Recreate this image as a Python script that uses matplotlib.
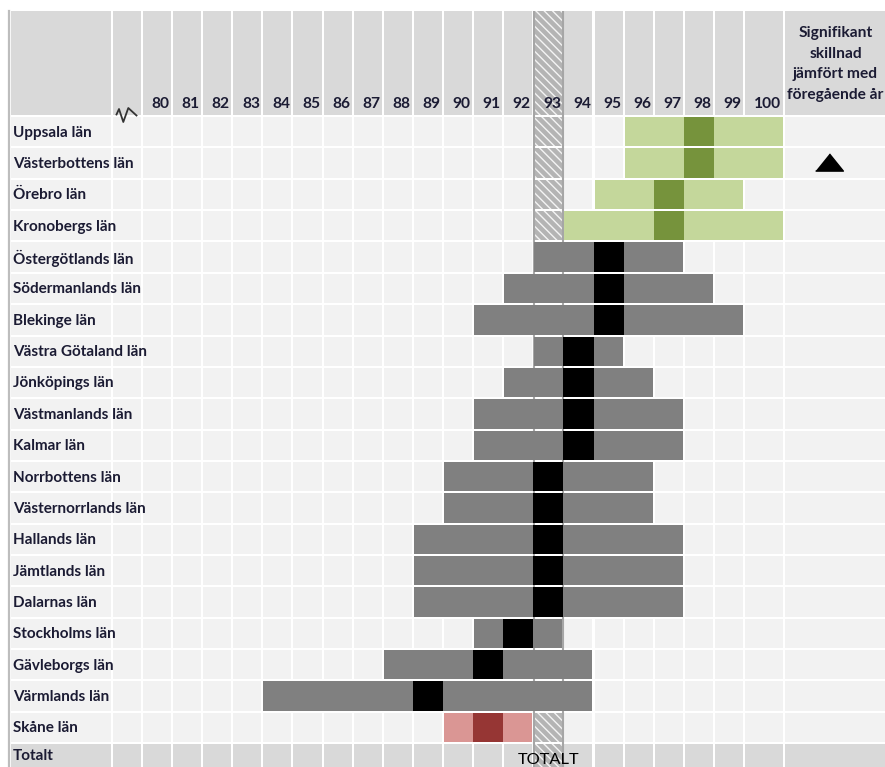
import matplotlib
matplotlib.use("Agg")
import matplotlib.pyplot as plt
from matplotlib.lines import Line2D

# ---------------- data ----------------
regions = ["Uppsala län", "Västerbottens län", "Örebro län", "Kronobergs län",
           "Östergötlands län", "Södermanlands län", "Blekinge län",
           "Västra Götaland län", "Jönköpings län", "Västmanlands län",
           "Kalmar län", "Norrbottens län", "Västernorrlands län",
           "Hallands län", "Jämtlands län", "Dalarnas län", "Stockholms län",
           "Gävleborgs län", "Värmlands län", "Skåne län"]
estimate = [98, 98, 97, 97, 95, 95, 95, 94, 94, 94, 94, 93, 93, 93, 93, 93, 92, 91, 89, 91]
ci_low   = [96, 96, 95, 94, 93, 92, 91, 93, 92, 91, 91, 90, 90, 89, 89, 89, 91, 88, 84, 90]
ci_high  = [100, 100, 99, 100, 97, 98, 99, 95, 96, 97, 97, 96, 96, 97, 97, 97, 93, 94, 94, 92]
signif   = ["", "up", "", "", "", "", "", "", "", "", "", "", "", "", "", "", "", "", "", ""]
scale_values = list(range(80, 101))
total_value = 93
total_label = "Totalt"
total_marker = "TOTALT"
signif_header = "Signifikant\nskillnad\njämfört med\nföregående år"

# ---------------- layout ----------------
W, H = 885, 767
PX_X0, CW, RP, RY0 = 142.0, 30.1, 31.35, 131.75


def xu(px):
    return 79.5 + (px - PX_X0) / CW


def yu(px):
    return (px - RY0) / RP


GX = 1.0 / CW
GY = 1.0 / RP
HDR_TOP = yu(9.5)
HDR_BOT = -0.5
TOT_ROW = len(regions)


def col_left(v):
    return v - 0.5


def col_right(v):
    return 100.83 if v == 100 else v + 0.5


LABEL_COL = (xu(9.5), xu(112.5))
BREAK_COL = (xu(112.5), 79.5)
SIG_COL = (100.83, xu(W) + 1)

HEADER_BG = "#D9D9D9"
CELL_BG = "#F2F2F2"
TXT = "#1B1B33"
FONT = "Lato"
FS = 11.0

fig = plt.figure(figsize=(W / 100, H / 100), dpi=100)
ax = fig.add_axes([0, 0, 1, 1])
ax.set_xlim(xu(0), xu(W))
ax.set_ylim(yu(H), yu(0))
ax.axis("off")


def cell(x0, x1, y0, y1, color, z=1, **kw):
    ax.bar(x=(x0 + x1) / 2, height=(y1 - y0) - 2 * GY, width=(x1 - x0) - 2 * GX,
           bottom=y0 + GY, color=color, zorder=z, linewidth=0, **kw)


all_cols = [LABEL_COL, BREAK_COL] + [(col_left(v), col_right(v)) for v in scale_values] + [SIG_COL]

# header row
for (x0, x1) in all_cols:
    cell(x0, x1, HDR_TOP, HDR_BOT, HEADER_BG)
# body rows
for i in range(len(regions)):
    for (x0, x1) in all_cols:
        cell(x0, x1, i - 0.5, i + 0.5, CELL_BG)
# total row
for (x0, x1) in all_cols:
    cell(x0, x1, TOT_ROW - 0.5, TOT_ROW + 0.5, HEADER_BG)

# hatched total column
ys = [(HDR_TOP, HDR_BOT)] + [(i - 0.5, i + 0.5) for i in range(len(regions) + 1)]
for (y0, y1) in ys:
    cell(col_left(total_value), col_right(total_value), y0, y1, "#B4B4B4", z=2,
         hatch="\\\\\\\\", edgecolor="#F4F4F4")
for xe in (col_left(total_value) + GX * 0.9, col_right(total_value) - GX * 0.9):
    ax.plot([xe, xe], [HDR_TOP + GY, yu(H) + 1], color="#A6A6A6", lw=1.5, zorder=3,
            solid_capstyle="butt")

# left border line
ax.plot([xu(9.2), xu(9.2)], [HDR_TOP + GY, yu(H) + 1], color="#BDBDBD", lw=1.6, zorder=3)

# bars
for i, (lo, est, hi) in enumerate(zip(ci_low, estimate, ci_high)):
    if lo > total_value:
        c_ci, c_pt = "#C4D79B", "#76933C"
    elif hi < total_value:
        c_ci, c_pt = "#DA9694", "#963634"
    else:
        c_ci, c_pt = "#808080", "#000000"
    l = col_left(lo) + GX
    r = col_right(hi) - GX
    ax.barh(i, r - l, left=l, height=1 - 2 * GY, color=c_ci, zorder=4, linewidth=0)
    pl = col_left(est)
    pr = col_right(est)
    ax.barh(i, pr - pl, left=pl, height=1 - 2 * GY, color=c_pt, zorder=5, linewidth=0)

# significance markers
tri = [(-1.0, -0.62), (1.0, -0.62), (0.0, 0.62)]
for i, s in enumerate(signif):
    if s == "up":
        ax.plot(xu(829), i - 0.04, marker=tri, ms=20, color="black", zorder=6, linestyle="none")

# texts
for i, name in enumerate(regions):
    ax.text(xu(13), i + 0.03, name, ha="left", va="center", fontsize=FS,
            fontweight="bold", color=TXT, family=FONT, zorder=7)
ax.text(xu(13), yu(756.5), total_label, ha="left", va="center", fontsize=FS,
        fontweight="bold", color=TXT, family=FONT, zorder=7)

for v in scale_values:
    ax.text(col_right(v) - 2.5 / CW, yu(108.5), str(v), ha="right", va="baseline",
            fontsize=11.2, fontweight="bold", color=TXT, family=FONT, zorder=7)

ax.text(xu(835.5), yu(64), signif_header, ha="center", va="center", fontsize=11.2,
        fontweight="bold", color=TXT, family=FONT, linespacing=1.6, zorder=7)

ax.text(total_value, yu(764.5), total_marker, ha="center", va="baseline", fontsize=11.8,
        color="black", family=FONT, zorder=7)

# axis break symbol
zig_px = [(116.5, 114.5), (119.0, 109.0), (123.3, 122.0), (128.3, 108.0), (136.5, 115.5)]
ax.add_line(Line2D([xu(p[0]) for p in zig_px], [yu(p[1]) for p in zig_px],
                   color="#333333", lw=1.3, zorder=8))

fig.savefig("out.png", dpi=100)
